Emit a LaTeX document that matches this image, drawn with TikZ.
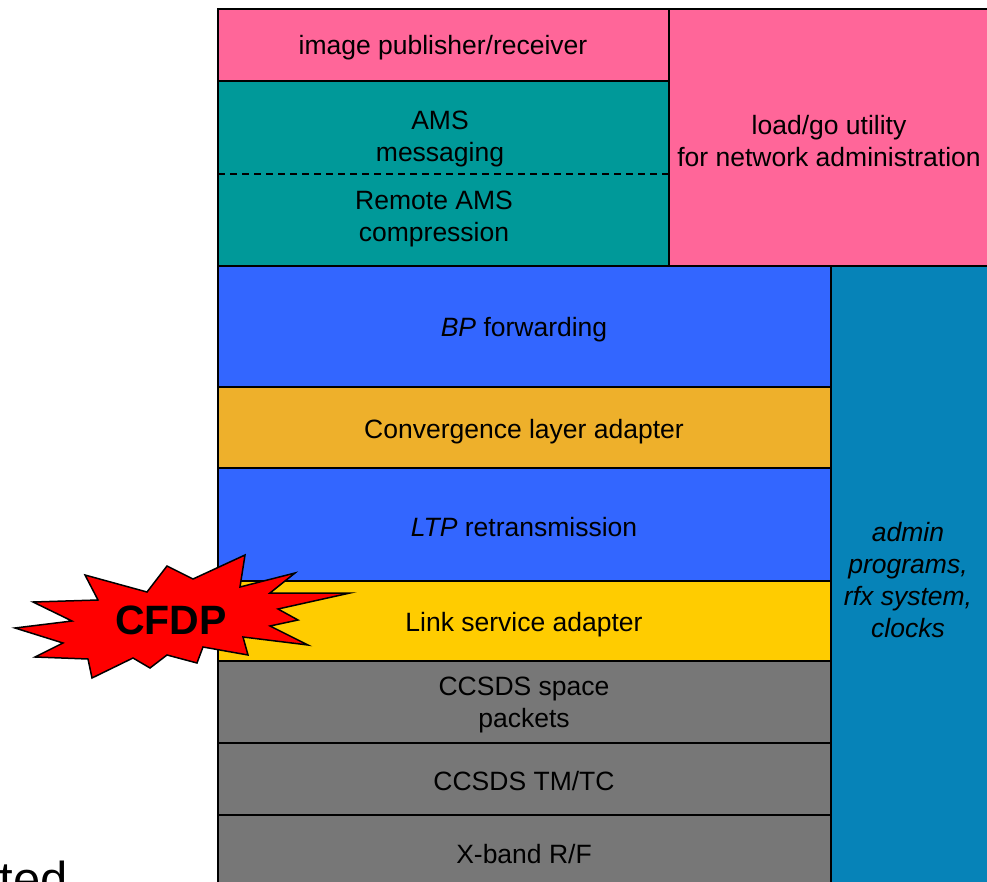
\documentclass[tikz,border=0pt]{standalone}
\usepackage{fontspec}
\setmainfont{Liberation Sans}
\definecolor{cpink}{HTML}{FF6699}
\definecolor{cteal}{HTML}{009999}
\definecolor{cblue}{HTML}{3366FF}
\definecolor{cconv}{HTML}{EEB02B}
\definecolor{cyell}{HTML}{FFCC00}
\definecolor{cgray}{HTML}{777777}
\definecolor{cadmin}{HTML}{0683B8}
\tikzset{
  layer/.style={draw=black, line width=1.5pt},
  lbl/.style={font=\fontsize{26.5}{32}\selectfont, align=center, inner sep=0pt, text=black},
}
\begin{document}
\begin{tikzpicture}[x=1pt,y=-1pt]
\useasboundingbox (0,0) rectangle (987,882);
\clip (0,0) rectangle (987,882);
% top block
\draw[layer, fill=cpink] (669,9) rectangle (1000,266);
\draw[layer, fill=cpink] (218,9) rectangle (669,81);
\draw[layer, fill=cteal] (218,81) rectangle (669,266);
\draw[black, line width=1.2pt, dash pattern=on 7pt off 5pt] (218,174) -- (669,174);
% admin column
\draw[layer, fill=cadmin] (831,266) rectangle (1000,900);
% stack
\draw[layer, fill=cblue] (218,266) rectangle (831,387);
\draw[layer, fill=cconv] (218,387) rectangle (831,468);
\draw[layer, fill=cblue] (218,468) rectangle (831,581);
\draw[layer, fill=cyell] (218,581) rectangle (831,661);
\draw[layer, fill=cgray] (218,661) rectangle (831,743);
\draw[layer, fill=cgray] (218,743) rectangle (831,815);
\draw[layer, fill=cgray] (218,815) rectangle (831,900);
% labels
\node[lbl] (img) at (443,48) {image publisher/receiver};
\node[lbl] (ams) at (440,139) {AMS\\messaging};
\node[lbl] (rams) at (434,219) {Remote AMS\\compression};
\node[lbl] (load) at (829,141) {load/go utility\\for network administration};
\node[lbl] (bp) at (524,330) {\textit{BP} forwarding};
\node[lbl] (cla) at (524,432) {Convergence layer adapter};
\node[lbl] (ltp) at (524,527) {\textit{LTP} retransmission};
\node[lbl] (lsa) at (524,625) {Link service adapter};
\node[lbl] (csp) at (524,705) {CCSDS space\\packets};
\node[lbl] (tmtc) at (524,781) {CCSDS TM/TC};
\node[lbl] (xb) at (524,854) {X-band R/F};
\node[lbl, font=\fontsize{26.5}{32}\selectfont\itshape] (adm) at (908,580) {admin\\programs,\\rfx system,\\clocks};
% CFDP burst
\draw[fill=red, draw=black, line width=1.5pt, line join=miter]
 (245,555) -- (240,587) -- (295,573) -- (270,593) -- (350,593) -- (278,609)
 -- (298,620) -- (270,626) -- (308,645) -- (243,637) -- (248,655) -- (203,647)
 -- (197,663) -- (167,655) -- (150,668) -- (133,658) -- (92,678) -- (88,659)
 -- (35,657) -- (63,643) -- (15,628) -- (72,621) -- (33,602) -- (98,600)
 -- (85,575) -- (147,592) -- (167,566) -- (193,579) -- cycle;
\node[lbl, font=\fontsize{41}{48}\selectfont\bfseries] (cfdp) at (171,620) {CFDP};
% text cut off by the edge, as in the reference
\node[font=\fontsize{49}{56}\selectfont, anchor=base east, inner sep=0pt] (ted) at (68,896) {ted};
\end{tikzpicture}
\end{document}
